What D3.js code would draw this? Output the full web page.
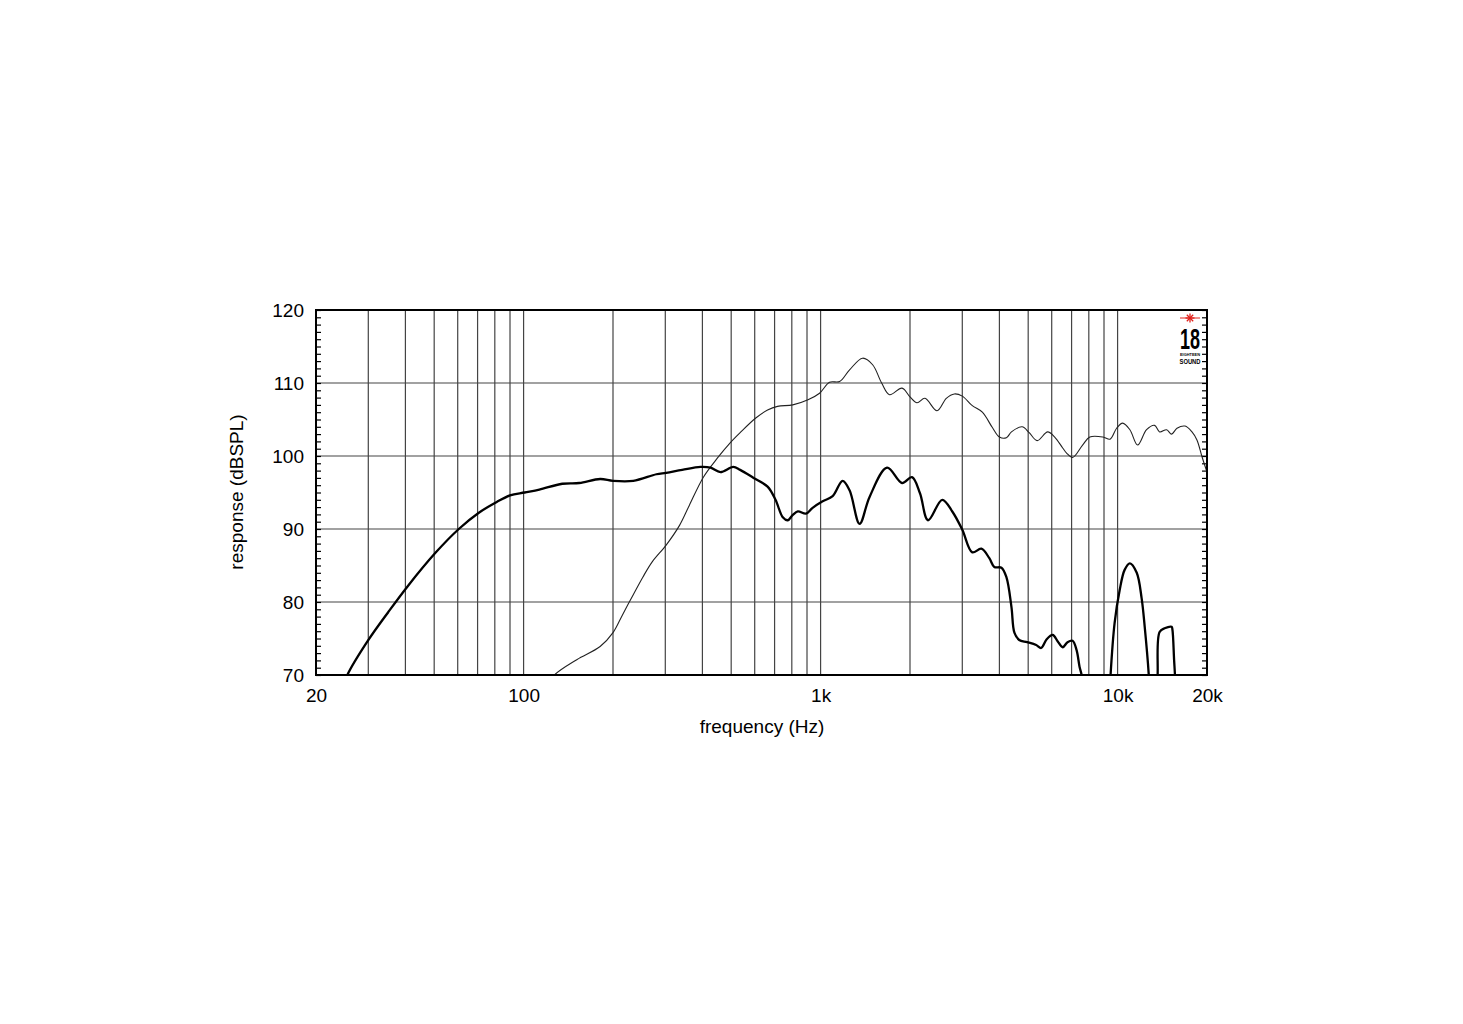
<!DOCTYPE html>
<html>
<head>
<meta charset="utf-8">
<script src="https://cdn.jsdelivr.net/npm/d3@7"></script>
<style>
  html, body { margin: 0; padding: 0; background: #fff; }
  svg { display: block; }
  text { font-family: "Liberation Sans", Arial, Helvetica, sans-serif; }
</style>
</head>
<body>
<svg id="chart" width="1463" height="1024"></svg>
<script>
// ---- data ----
const xTickValues = [20, 100, 1000, 10000, 20000];
const xTickLabels = ["20", "100", "1k", "10k", "20k"];
const xGridValues = [30, 40, 50, 60, 70, 80, 90, 100, 200, 300, 400, 500, 600, 700, 800, 900,
                     1000, 2000, 3000, 4000, 5000, 6000, 7000, 8000, 9000, 10000];
const yTickValues = [70, 80, 90, 100, 110, 120];
const yTickLabels = ["70", "80", "90", "100", "110", "120"];

// thick curve (null = gap, values below 70 are clipped)
const thickFreq = [24, 25.5, 29.8, 35, 40.6, 50.4, 60.5, 70.5, 81.2, 90, 100.8, 113, 135, 154, 181, 200,
  234, 280, 302, 342, 394, 426, 460, 508, 536, 595, 663, 705, 746, 775, 805, 838, 893, 940, 1016, 1098,
  1186, 1252, 1353, 1462, 1674, 1880, 2031, 2161, 2300, 2568, 2776, 3000, 3242, 3477, 3700, 3846, 4063,
  4223, 4392, 4493, 4663, 4961, 5320, 5530, 5771, 6047, 6288, 6533, 6783, 7054, 7277, 7448, 7565, 7700,
  8500,
  9350, 9470, 9770, 10160, 10560, 11000, 11600, 12050, 12340, 12720, 12850,
  13200,
  13550, 13640, 13850, 14400, 15200, 15300, 15500, 15600, 15700];
const thickSpl = [67, 70, 74.6, 78.6, 82.1, 86.7, 90.0, 92.2, 93.7, 94.6, 95.0, 95.4, 96.2, 96.3, 96.85, 96.6,
  96.6, 97.5, 97.7, 98.1, 98.5, 98.4, 97.8, 98.5, 98.1, 97.0, 95.8, 94.0, 91.6, 91.2, 91.9, 92.4, 92.1, 92.9, 93.8, 94.5,
  96.6, 95.3, 90.7, 94.4, 98.4, 96.3, 97.1, 94.9, 91.2, 94.0, 92.4, 89.9, 86.8, 87.3, 86.0, 84.8, 84.7,
  83.4, 79.3, 75.8, 74.8, 74.5, 74.1, 73.7, 74.9, 75.5, 74.6, 73.8, 74.5, 74.7, 73.4, 71.1, 70.0, 66,
  null,
  65, 70, 77.1, 81.6, 84.4, 85.3, 84.0, 80.5, 76.6, 70.3, 66,
  null,
  66, 70, 75.9, 76.4, 76.6, 76.2, 72, 70, 66];

// thin curve
const thinFreq = [120, 127, 151, 181, 200, 215, 234, 252, 271, 302, 335, 361, 403, 449, 496, 536,
  605, 663, 716, 806, 907, 992, 1072, 1159, 1252, 1385, 1497, 1605, 1707, 1880, 2000, 2112, 2246, 2466,
  2650, 2820, 3000, 3242, 3504, 3788, 4000, 4223, 4392, 4770, 5039, 5360, 5815, 6141, 6533, 6734, 7054,
  7623, 8063, 8930, 9432, 9923, 10400, 11000, 11680, 12520, 13320, 13850, 14620, 15200, 15850, 16870,
  17800, 18500, 19240, 20000];
const thinSpl = [68.5, 70, 72.1, 73.9, 75.8, 78.2, 81.0, 83.4, 85.5, 87.8, 90.5, 93.2, 97.1, 99.7, 101.8, 103.2,
  105.2, 106.3, 106.8, 107.0, 107.7, 108.6, 110.1, 110.2, 111.8, 113.4, 112.5, 110.0, 108.4, 109.3, 108.1, 107.3, 107.9, 106.2,
  107.9, 108.5, 108.2, 106.9, 106.0, 103.9, 102.6, 102.5, 103.3, 104.0, 103.2, 102.1, 103.3, 102.6, 101.1, 100.4, 99.8,
  101.5, 102.6, 102.6, 102.3, 103.8, 104.5, 103.6, 101.5, 103.6, 104.2, 103.3, 103.6, 103.0, 103.8, 104.1,
  103.3, 102.2, 99.9, 97.8];

const xTitle = "frequency (Hz)";
const yTitle = "response (dBSPL)";

// ---- drawing ----
const svg = d3.select("#chart");
const L = 316, R = 1207, T = 310, B = 675;

const x = d3.scaleLog().domain([20, 20000]).range([L, R]);
const y = d3.scaleLinear().domain([70, 120]).range([B, T]);

svg.append("defs").append("clipPath").attr("id", "plotclip")
  .append("rect").attr("x", L).attr("y", T).attr("width", R - L).attr("height", B - T);

// grid
const grid = svg.append("g");
grid.selectAll("line.v").data(xGridValues).join("line")
  .attr("x1", d => x(d)).attr("x2", d => x(d)).attr("y1", T).attr("y2", B)
  .attr("stroke", "#444").attr("stroke-width", 1.2);
grid.selectAll("line.h").data(yTickValues.slice(1, -1)).join("line")
  .attr("x1", L).attr("x2", R).attr("y1", d => y(d)).attr("y2", d => y(d))
  .attr("stroke", "#444").attr("stroke-width", 1.2);

// minor ticks every 1 dB on left (inward) and right (inward)
const leftAxis = d3.axisRight(y).tickValues(d3.range(70, 121, 1)).tickSize(5).tickFormat("");
const rightAxis = d3.axisLeft(y).tickValues(d3.range(70, 121, 1)).tickSize(5).tickFormat("");
svg.append("g").attr("transform", `translate(${L},0)`).call(leftAxis)
  .call(g => g.select(".domain").remove())
  .call(g => g.selectAll("line").attr("stroke", "#000").attr("stroke-width", 1.2));
svg.append("g").attr("transform", `translate(${R},0)`).call(rightAxis)
  .call(g => g.select(".domain").remove())
  .call(g => g.selectAll("line").attr("stroke", "#000").attr("stroke-width", 1.2));

// curves
const mk = (fs, vs) => fs.map((f, i) => ({ f, v: vs[i] }));
const line = d3.line().defined(d => d.v !== null).x(d => x(d.f)).y(d => y(d.v))
  .curve(d3.curveCatmullRom.alpha(0.5));
const curves = svg.append("g").attr("clip-path", "url(#plotclip)");
curves.append("path").datum(mk(thinFreq, thinSpl)).attr("d", line)
  .attr("fill", "none").attr("stroke", "#222").attr("stroke-width", 1.1);
curves.append("path").datum(mk(thickFreq, thickSpl)).attr("d", line)
  .attr("fill", "none").attr("stroke", "#000").attr("stroke-width", 2.3).attr("stroke-linejoin", "round");

// frame
svg.append("rect").attr("x", L).attr("y", T).attr("width", R - L).attr("height", B - T)
  .attr("fill", "none").attr("stroke", "#000").attr("stroke-width", 2);

// tick labels
const xAxis = d3.axisBottom(x).tickValues(xTickValues).tickSize(0).tickPadding(14)
  .tickFormat((d, i) => xTickLabels[i]);
svg.append("g").attr("transform", `translate(0,${B})`).call(xAxis)
  .call(g => g.select(".domain").remove())
  .call(g => g.selectAll("text").attr("font-size", 19).attr("fill", "#000")
    .attr("font-family", "Liberation Sans, Arial, sans-serif"));
const yAxis = d3.axisLeft(y).tickValues(yTickValues).tickSize(0).tickPadding(12)
  .tickFormat((d, i) => yTickLabels[i]);
svg.append("g").attr("transform", `translate(${L},0)`).call(yAxis)
  .call(g => g.select(".domain").remove())
  .call(g => g.selectAll("text").attr("font-size", 19).attr("fill", "#000")
    .attr("font-family", "Liberation Sans, Arial, sans-serif"));

// titles
svg.append("text").attr("x", 762).attr("y", 733).attr("text-anchor", "middle")
  .attr("font-size", 19).attr("fill", "#000").text(xTitle);
svg.append("text").attr("transform", "translate(243,492) rotate(-90)").attr("text-anchor", "middle")
  .attr("font-size", 19).attr("fill", "#000").text(yTitle);

// logo
const logo = svg.append("g").attr("transform", "translate(1190,318)");
logo.append("line").attr("x1", -10).attr("x2", 10).attr("y1", 0).attr("y2", 0)
  .attr("stroke", "#e0201b").attr("stroke-width", 1);
d3.range(8).forEach(k => {
  const a = k * Math.PI / 4;
  logo.append("line").attr("x1", 0).attr("y1", 0)
    .attr("x2", Math.cos(a) * 4.5).attr("y2", Math.sin(a) * 4.5)
    .attr("stroke", "#e0201b").attr("stroke-width", 1.3);
});
logo.append("text").attr("x", 0).attr("y", 31).attr("text-anchor", "middle")
  .attr("font-size", 29).attr("font-weight", "bold").attr("textLength", 20)
  .attr("lengthAdjust", "spacingAndGlyphs").attr("fill", "#000").text("18");
logo.append("text").attr("x", 0).attr("y", 38).attr("text-anchor", "middle")
  .attr("font-size", 3.5).attr("font-weight", "bold").attr("textLength", 20)
  .attr("lengthAdjust", "spacingAndGlyphs").attr("fill", "#000").text("EIGHTEEN");
logo.append("text").attr("x", 0).attr("y", 45.5).attr("text-anchor", "middle")
  .attr("font-size", 6.5).attr("font-weight", "bold").attr("textLength", 21)
  .attr("lengthAdjust", "spacingAndGlyphs").attr("fill", "#000").text("SOUND");
</script>
</body>
</html>
